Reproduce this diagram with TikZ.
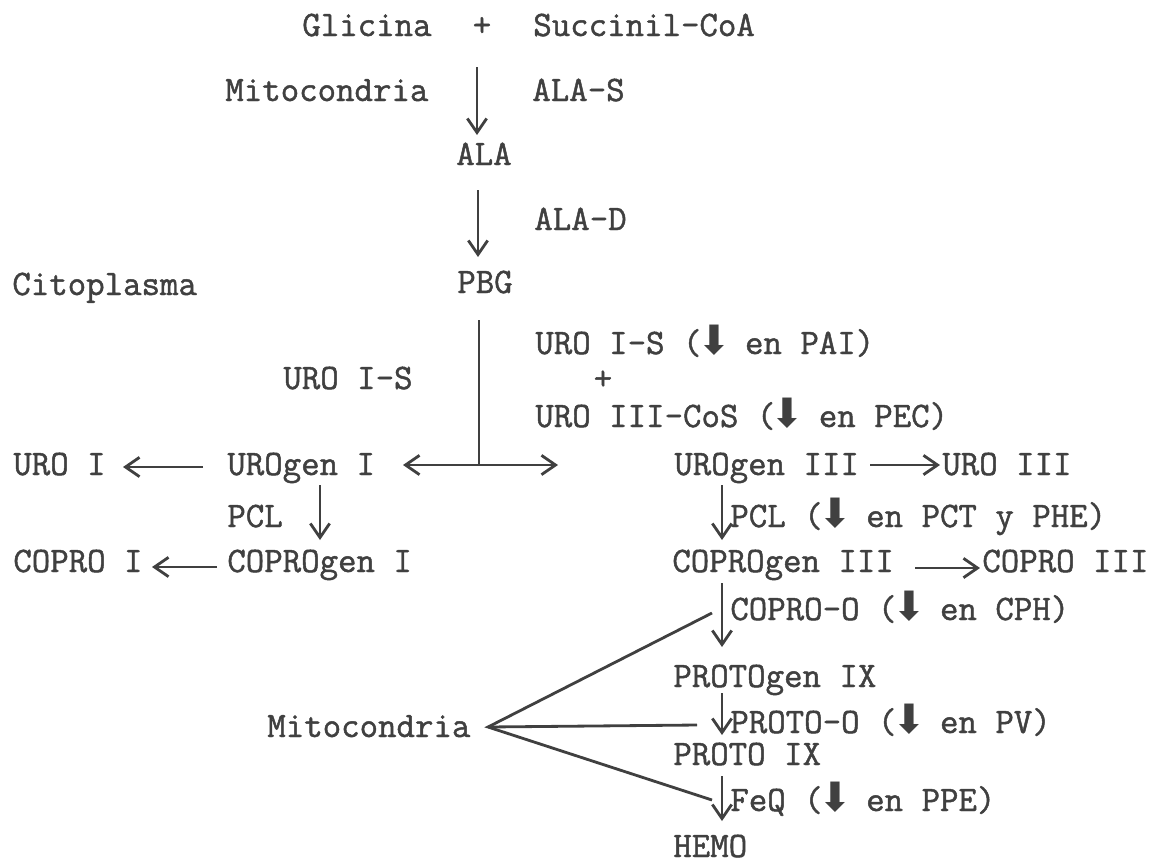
\documentclass[tikz,border=0pt]{standalone}
\usepackage{fontspec}
\usetikzlibrary{arrows.meta}
\newfontfamily\simbolos{DejaVu Sans}
\newfontfamily\maquina{Latin Modern Mono}[FakeBold=1.3]
\definecolor{tinta}{HTML}{404040}
\newcommand{\baja}{\makebox[0.7em]{\simbolos\fontsize{23}{23}\selectfont ⬇}}

\begin{document}
\begin{tikzpicture}[x=0.02cm,y=-0.02cm,
    every node/.style={inner sep=0pt,text=tinta,font=\maquina\fontsize{20.4}{24}\selectfont},
    txt/.style={anchor=base west},
    txtc/.style={anchor=base},
    flecha/.style={draw=tinta,line width=1.6pt,-{Straight Barb[length=8pt,width=11pt]}},
    doble/.style={draw=tinta,line width=1.6pt,{Straight Barb[length=8pt,width=11pt]}-{Straight Barb[length=8pt,width=11pt]}},
    linea/.style={draw=tinta,line width=1.6pt}]
  \useasboundingbox (0,0) rectangle (1156,866);
  % sustratos y ALA
  \node[txt] (glicina) at (302,36) {Glicina};
  \node[txtc] (mas) at (482,36) {+};
  \node[txt] (succinil) at (533,36) {Succinil-CoA};
  \node[txt] (mito1) at (225,101) {Mitocondria};
  \node[txt] (alas) at (532,101) {ALA-S};
  \node[txtc] (ala) at (484,165) {ALA};
  \node[txt] (alad) at (534,230) {ALA-D};
  \node[txt] (cito) at (12,295) {Citoplasma};
  \node[txtc] (pbg) at (485,293) {PBG};
  % sintasas
  \node[txt] (uro1s) at (283,389) {URO I-S};
  \node[txt] (uro1spai) at (535,354) {URO I-S (\baja{} en PAI)};
  \node (mas2) at (603,380) {+};
  \node[txt] (uro3cos) at (535,427) {URO III-CoS (\baja{} en PEC)};
  % serie I
  \node[txt] (uro1) at (13,475) {URO I};
  \node[txt] (urogen1) at (227,475) {UROgen I};
  \node[txt] (pcl1) at (227,527) {PCL};
  \node[txt] (copro1) at (13,572) {COPRO I};
  \node[txt] (coprogen1) at (227,572) {COPROgen I};
  % serie III
  \node[txt] (urogen3) at (674,475) {UROgen III};
  \node[txt] (uro3) at (942,475) {URO III};
  \node[txt] (pcl3) at (730,527) {PCL (\baja{} en PCT y PHE)};
  \node[txt] (coprogen3) at (672,572) {COPROgen III};
  \node[txt] (copro3) at (982,572) {COPRO III};
  \node[txt] (coproo) at (730,620) {COPRO-O (\baja{} en CPH)};
  \node[txt] (protogen) at (673,687) {PROTOgen IX};
  \node[txt] (protoo) at (730,733) {PROTO-O (\baja{} en PV)};
  \node[txt] (proto) at (673,765) {PROTO IX};
  \node[txt] (feq) at (730,811) {FeQ (\baja{} en PPE)};
  \node[txt] (hemo) at (673,857) {HEMO};
  \node[txt] (mito2) at (267,737) {Mitocondria};
  % puntos de las flechas
  \coordinate (f1a) at (477,67);   \coordinate (f1b) at (477,135);
  \coordinate (f2a) at (478,190);  \coordinate (f2b) at (478,257);
  \coordinate (pbga) at (479,320); \coordinate (cruce) at (479,465);
  \coordinate (cruceiz) at (403,465); \coordinate (crucede) at (558,465);
  \coordinate (u1a) at (203,467);  \coordinate (u1b) at (123,467);
  \coordinate (p1a) at (320,485);  \coordinate (p1b) at (320,540);
  \coordinate (c1a) at (217,567);  \coordinate (c1b) at (152,567);
  \coordinate (u3a) at (870,465);  \coordinate (u3b) at (940,465);
  \coordinate (c3a) at (915,568);  \coordinate (c3b) at (980,568);
  \coordinate (r1a) at (722,485);  \coordinate (r1b) at (722,540);
  \coordinate (r2a) at (722,583);  \coordinate (r2b) at (722,647);
  \coordinate (r3a) at (722,693);  \coordinate (r3b) at (722,735);
  \coordinate (r4a) at (722,776);  \coordinate (r4b) at (722,821);
  \coordinate (vert) at (488,727);
  \coordinate (m1) at (712,613); \coordinate (m2) at (697,725); \coordinate (m3) at (712,800);
  % flechas
  \draw[flecha] (f1a) -- (f1b);
  \draw[flecha] (f2a) -- (f2b);
  \draw[linea] (pbga) -- (cruce);
  \draw[doble] (cruceiz) -- (crucede);
  \draw[flecha] (u1a) -- (u1b);
  \draw[flecha] (p1a) -- (p1b);
  \draw[flecha] (c1a) -- (c1b);
  \draw[flecha] (u3a) -- (u3b);
  \draw[flecha] (c3a) -- (c3b);
  \draw[flecha] (r1a) -- (r1b);
  \draw[flecha] (r2a) -- (r2b);
  \draw[flecha] (r3a) -- (r3b);
  \draw[flecha] (r4a) -- (r4b);
  \draw[linea] (m1) -- (vert) -- (m3);
  \draw[linea] (vert) -- (m2);
\end{tikzpicture}
\end{document}
